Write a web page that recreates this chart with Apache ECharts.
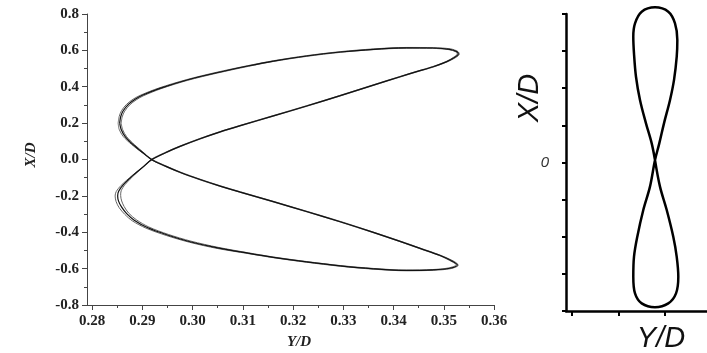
<!DOCTYPE html>
<html>
<head>
<meta charset="utf-8">
<script src="https://cdn.jsdelivr.net/npm/echarts@6/dist/echarts.min.js"></script>
<style>
  html, body { margin: 0; padding: 0; background: #fff; }
  #chart { width: 707px; height: 353px; }
</style>
</head>
<body>
<div id="chart"></div>
<script>
// Orbit in the (Y/D, X/D) plane, three successive cycles. Each point is [Y/D, X/D].
const orbitCycle1 = [
  [0.2855, 0.200], [0.2857, 0.235], [0.2862, 0.268], [0.2872, 0.302], [0.2885, 0.330],
  [0.2899, 0.352], [0.2935, 0.391], [0.2989, 0.437], [0.3048, 0.477], [0.3110, 0.514],
  [0.3161, 0.541], [0.3227, 0.569], [0.3294, 0.591], [0.3360, 0.606], [0.3426, 0.614],
  [0.3479, 0.613], [0.3512, 0.606], [0.3526, 0.593], [0.3529, 0.580], [0.3522, 0.562],
  [0.3506, 0.538], [0.3479, 0.510], [0.3446, 0.483], [0.3413, 0.455], [0.3360, 0.409],
  [0.3294, 0.351], [0.3227, 0.294], [0.3161, 0.240], [0.3095, 0.186], [0.3055, 0.152],
  [0.3015, 0.114], [0.2975, 0.072], [0.2945, 0.036], [0.2919, 0.000], [0.2902, -0.040],
  [0.2882, -0.086], [0.2862, -0.140], [0.2853, -0.175], [0.2851, -0.200], [0.2853, -0.230],
  [0.2859, -0.262], [0.2869, -0.298], [0.2884, -0.334], [0.2910, -0.374], [0.2950, -0.415],
  [0.2995, -0.452], [0.3050, -0.486], [0.3110, -0.515], [0.3161, -0.538], [0.3227, -0.563],
  [0.3294, -0.585], [0.3360, -0.601], [0.3426, -0.610], [0.3479, -0.607], [0.3512, -0.598],
  [0.3527, -0.580], [0.3519, -0.562], [0.3493, -0.528], [0.3453, -0.489], [0.3413, -0.450],
  [0.3360, -0.401], [0.3294, -0.342], [0.3227, -0.286], [0.3161, -0.232], [0.3095, -0.179],
  [0.3055, -0.146], [0.3015, -0.110], [0.2975, -0.070], [0.2945, -0.035], [0.2919, -0.001],
  [0.2902, 0.036], [0.2882, 0.081], [0.2866, 0.126], [0.2858, 0.165], [0.2855, 0.200]
];
const orbitCycle2 = [
  [0.2852, 0.200], [0.2854, 0.236], [0.2859, 0.270], [0.2869, 0.304], [0.2882, 0.332],
  [0.2897, 0.354], [0.2933, 0.393], [0.2988, 0.439], [0.3047, 0.479], [0.3110, 0.516],
  [0.3161, 0.543], [0.3227, 0.571], [0.3294, 0.593], [0.3360, 0.608], [0.3426, 0.616],
  [0.3480, 0.615], [0.3514, 0.608], [0.3528, 0.594], [0.3531, 0.580], [0.3524, 0.561],
  [0.3507, 0.537], [0.3480, 0.509], [0.3447, 0.482], [0.3414, 0.454], [0.3361, 0.408],
  [0.3295, 0.350], [0.3228, 0.293], [0.3162, 0.239], [0.3096, 0.185], [0.3056, 0.151],
  [0.3016, 0.113], [0.2976, 0.071], [0.2946, 0.035], [0.2920, 0.000], [0.2901, -0.042],
  [0.2880, -0.088], [0.2858, -0.142], [0.2848, -0.177], [0.2846, -0.201], [0.2848, -0.232],
  [0.2854, -0.265], [0.2865, -0.301], [0.2880, -0.337], [0.2907, -0.377], [0.2948, -0.418],
  [0.2994, -0.455], [0.3049, -0.489], [0.3110, -0.517], [0.3161, -0.540], [0.3227, -0.565],
  [0.3294, -0.587], [0.3360, -0.603], [0.3426, -0.612], [0.3480, -0.609], [0.3514, -0.600],
  [0.3529, -0.581], [0.3521, -0.561], [0.3494, -0.527], [0.3454, -0.488], [0.3414, -0.449],
  [0.3361, -0.400], [0.3295, -0.341], [0.3228, -0.285], [0.3162, -0.231], [0.3096, -0.178],
  [0.3056, -0.145], [0.3016, -0.109], [0.2976, -0.069], [0.2946, -0.034], [0.2920, 0.000],
  [0.2900, 0.037], [0.2879, 0.082], [0.2862, 0.127], [0.2854, 0.166], [0.2852, 0.200]
];
const orbitCycle3 = [
  [0.2858, 0.199], [0.2860, 0.234], [0.2865, 0.266], [0.2875, 0.300], [0.2888, 0.328],
  [0.2902, 0.350], [0.2937, 0.389], [0.2990, 0.435], [0.3049, 0.475], [0.3111, 0.512],
  [0.3161, 0.539], [0.3227, 0.567], [0.3294, 0.589], [0.3360, 0.604], [0.3426, 0.612],
  [0.3478, 0.611], [0.3510, 0.604], [0.3524, 0.592], [0.3527, 0.580], [0.3520, 0.563],
  [0.3505, 0.539], [0.3478, 0.511], [0.3445, 0.484], [0.3412, 0.456], [0.3359, 0.410],
  [0.3293, 0.352], [0.3226, 0.295], [0.3160, 0.241], [0.3094, 0.187], [0.3054, 0.153],
  [0.3014, 0.115], [0.2974, 0.073], [0.2944, 0.037], [0.2918, 0.001], [0.2903, -0.038],
  [0.2885, -0.083], [0.2866, -0.137], [0.2858, -0.172], [0.2857, -0.198], [0.2859, -0.228],
  [0.2864, -0.259], [0.2873, -0.295], [0.2888, -0.331], [0.2913, -0.371], [0.2952, -0.412],
  [0.2997, -0.449], [0.3051, -0.483], [0.3111, -0.513], [0.3161, -0.536], [0.3227, -0.561],
  [0.3294, -0.583], [0.3360, -0.599], [0.3426, -0.608], [0.3478, -0.605], [0.3510, -0.596],
  [0.3525, -0.579], [0.3517, -0.563], [0.3492, -0.529], [0.3452, -0.490], [0.3412, -0.451],
  [0.3359, -0.402], [0.3293, -0.343], [0.3226, -0.287], [0.3160, -0.233], [0.3094, -0.180],
  [0.3054, -0.147], [0.3014, -0.111], [0.2974, -0.071], [0.2944, -0.036], [0.2918, -0.001],
  [0.2904, 0.035], [0.2885, 0.080], [0.2869, 0.125], [0.2861, 0.164], [0.2858, 0.199]
];

// Figure-eight sketch of the same motion, right-hand panel. [Y/D, X/D]
const sketchPath = [
  [0.29785, 0.013], [0.29714, 0.103], [0.29591, 0.211], [0.29462, 0.337], [0.29376, 0.462],
  [0.29333, 0.588], [0.29318, 0.678], [0.29355, 0.750], [0.29499, 0.8125], [0.29785, 0.836],
  [0.30071, 0.8125], [0.30215, 0.750], [0.30265, 0.660], [0.30252, 0.570], [0.30194, 0.445],
  [0.30108, 0.337], [0.29978, 0.211], [0.29877, 0.103], [0.29785, 0.013], [0.29677, -0.130],
  [0.29533, -0.256], [0.29404, -0.400], [0.29333, -0.508], [0.29318, -0.615], [0.29355, -0.705],
  [0.29499, -0.759], [0.29785, -0.780], [0.30071, -0.759], [0.30237, -0.705], [0.30286, -0.615],
  [0.30252, -0.508], [0.30178, -0.400], [0.30037, -0.256], [0.29892, -0.130], [0.29785, 0.013]
];

// Tick positions
const leftXTicks = [0.28, 0.29, 0.30, 0.31, 0.32, 0.33, 0.34, 0.35, 0.36];
const leftXMinorTicks = [0.285, 0.295, 0.305, 0.315, 0.325, 0.335, 0.345, 0.355];
const rightXTicks = [0.28, 0.29, 0.30];

const serifLabel = { fontFamily: 'Liberation Serif', fontWeight: 'bold', fontSize: 15, color: '#222' };
const axisGray = '#444';

const chart = echarts.init(document.getElementById('chart'));

const orbitLine = (data, color, width) => ({
  type: 'line', xAxisIndex: 0, yAxisIndex: 0, data: data,
  showSymbol: false, smooth: 0.3, silent: true,
  lineStyle: { color: color, width: width }
});

chart.setOption({
  animation: false,
  backgroundColor: '#fff',
  grid: [
    { left: 87, top: 14, width: 407, height: 291 },
    { left: 566, top: 14, right: 0, bottom: 42 }
  ],
  xAxis: [
    {
      gridIndex: 0, type: 'value', position: 'bottom', min: 0.279, max: 0.36,
      axisLine: { show: true, onZero: false, lineStyle: { color: axisGray, width: 1 } },
      axisTick: { show: true, customValues: leftXTicks, length: 5, lineStyle: { color: axisGray } },
      axisLabel: Object.assign({ customValues: leftXTicks, margin: 9,
        formatter: v => v.toFixed(2) }, serifLabel),
      splitLine: { show: false }
    },
    {
      gridIndex: 0, type: 'value', position: 'bottom', min: 0.279, max: 0.36,
      axisLine: { show: false, onZero: false },
      axisTick: { show: true, customValues: leftXMinorTicks, length: 3, lineStyle: { color: axisGray } },
      axisLabel: { show: false },
      splitLine: { show: false }
    },
    {
      gridIndex: 1, type: 'value', position: 'bottom', min: 0.27871, max: 0.30903,
      axisLine: { show: true, onZero: false, lineStyle: { color: '#000', width: 2.5 } },
      axisTick: { show: true, customValues: rightXTicks, length: 5, lineStyle: { color: '#000', width: 2 } },
      axisLabel: { show: false },
      splitLine: { show: false }
    }
  ],
  yAxis: [
    {
      gridIndex: 0, type: 'value', min: -0.8, max: 0.8, interval: 0.2,
      axisLine: { show: true, onZero: false, lineStyle: { color: axisGray, width: 1 } },
      axisTick: { show: true, length: 5, lineStyle: { color: axisGray } },
      minorTick: { show: true, splitNumber: 2, length: 3, lineStyle: { color: axisGray } },
      axisLabel: Object.assign({ margin: 8, formatter: v => v.toFixed(1) }, serifLabel),
      splitLine: { show: false }
    },
    {
      gridIndex: 1, type: 'value', min: -0.8, max: 0.8, interval: 0.2,
      axisLine: { show: true, onZero: false, lineStyle: { color: '#000', width: 2.5 } },
      axisTick: { show: true, length: 4, lineStyle: { color: '#000', width: 2 } },
      axisLabel: {
        margin: 17, fontFamily: 'Liberation Sans', fontStyle: 'italic', fontSize: 15, color: '#333',
        formatter: v => (Math.abs(v) < 1e-9 ? '0' : '')
      },
      splitLine: { show: false }
    }
  ],
  series: [
    orbitLine(orbitCycle2, '#666', 1),
    orbitLine(orbitCycle3, '#666', 1),
    orbitLine(orbitCycle1, '#111', 1.2),
    {
      type: 'line', xAxisIndex: 2, yAxisIndex: 1, data: sketchPath,
      showSymbol: false, smooth: 0.35, silent: true, clip: false,
      lineStyle: { color: '#000', width: 2.5 }
    }
  ],
  graphic: [
    { type: 'text', x: 31, y: 155, rotation: Math.PI / 2,
      style: { text: 'X/D', font: 'italic bold 15px "Liberation Serif"', fill: '#222', align: 'center', verticalAlign: 'middle' } },
    { type: 'text', x: 299, y: 342,
      style: { text: 'Y/D', font: 'italic bold 15px "Liberation Serif"', fill: '#222', align: 'center', verticalAlign: 'middle' } },
    { type: 'text', x: 530, y: 98, rotation: Math.PI / 2,
      style: { text: 'X/D', font: 'italic 29px "Liberation Sans"', fill: '#111', align: 'center', verticalAlign: 'middle' } },
    { type: 'text', x: 661, y: 339,
      style: { text: 'Y/D', font: 'italic 29px "Liberation Sans"', fill: '#111', align: 'center', verticalAlign: 'middle' } }
  ]
});
</script>
</body>
</html>
